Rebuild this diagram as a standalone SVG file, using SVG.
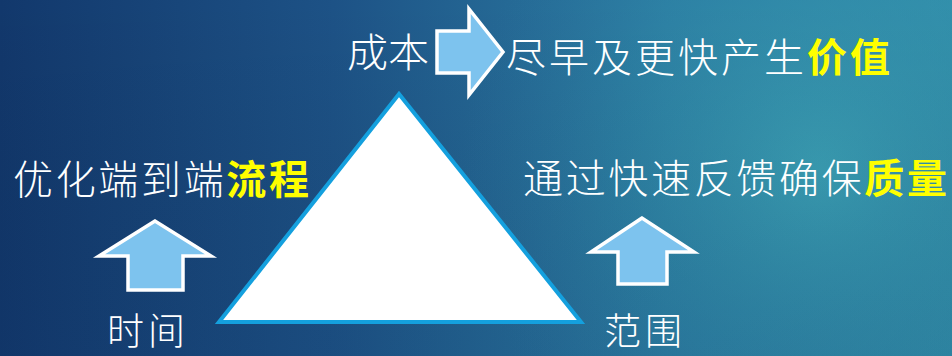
<svg xmlns="http://www.w3.org/2000/svg" width="952" height="356" viewBox="0 0 952 356">
<defs>
<linearGradient id="bgL" x1="0" y1="0" x2="1" y2="0">
<stop offset="0" stop-color="#12386c"/>
<stop offset="0.35" stop-color="#1d5286"/>
<stop offset="0.7" stop-color="#2c7ea3"/>
<stop offset="1" stop-color="#3494ad"/>
</linearGradient>
<radialGradient id="glow" cx="820" cy="170" r="360" gradientUnits="userSpaceOnUse">
<stop offset="0" stop-color="#3ca2b6" stop-opacity="0.9"/>
<stop offset="0.6" stop-color="#2f88a8" stop-opacity="0.35"/>
<stop offset="1" stop-color="#2a6f9c" stop-opacity="0"/>
</radialGradient>
<linearGradient id="shade" x1="0" y1="0" x2="0" y2="1">
<stop offset="0" stop-color="#000" stop-opacity="0"/>
<stop offset="1" stop-color="#0a2550" stop-opacity="0.12"/>
</linearGradient>
</defs>
<style>
.t{font-family:"Noto Sans CJK SC","Noto Sans CJK TC",sans-serif;font-size:40px;fill:#ffffff;font-weight:300}
.b{font-size:37px}
.y{fill:#ffff00;font-weight:700}
.arr{fill:#7dc3ee;stroke:#ffffff;stroke-width:3.5;stroke-linejoin:miter}
.tri{fill:#ffffff;stroke:#14a0de;stroke-width:4;stroke-linejoin:miter}
</style>
<rect x="0" y="0" width="952" height="356" fill="url(#bgL)"/>
<rect x="0" y="0" width="952" height="356" fill="url(#glow)"/>
<rect x="0" y="0" width="952" height="356" fill="url(#shade)"/>

<g id="triangle">
<polygon class="tri" points="399,94 219,322 581,322"/>
</g>

<g id="connectors">
<polygon class="arr" points="437,31 469,31 469,9 503,52 469,95 469,73 437,73"/>
<polygon class="arr" points="155,221 99,256 128,256 128,290 183,290 183,256 211,256"/>
<polygon class="arr" points="642,218 591,252 618,252 618,284 667,284 667,252 694,252"/>
</g>

<g id="cost">
<text class="t" x="347" y="67" textLength="82" lengthAdjust="spacingAndGlyphs">成本</text>
</g>
<g id="value">
<text class="t" x="506" y="72" textLength="384" lengthAdjust="spacing">尽早及更快产生<tspan class="y">价值</tspan></text>
</g>
<g id="process">
<text class="t" x="13" y="194" textLength="296" lengthAdjust="spacing">优化端到端<tspan class="y">流程</tspan></text>
</g>
<g id="quality">
<text class="t" x="523" y="193" textLength="424" lengthAdjust="spacing">通过快速反馈确保<tspan class="y">质量</tspan></text>
</g>
<g id="time">
<text class="t b" x="107" y="345" textLength="78" lengthAdjust="spacing">时间</text>
</g>
<g id="scope">
<text class="t b" x="604" y="345" textLength="78" lengthAdjust="spacing">范围</text>
</g>
</svg>
